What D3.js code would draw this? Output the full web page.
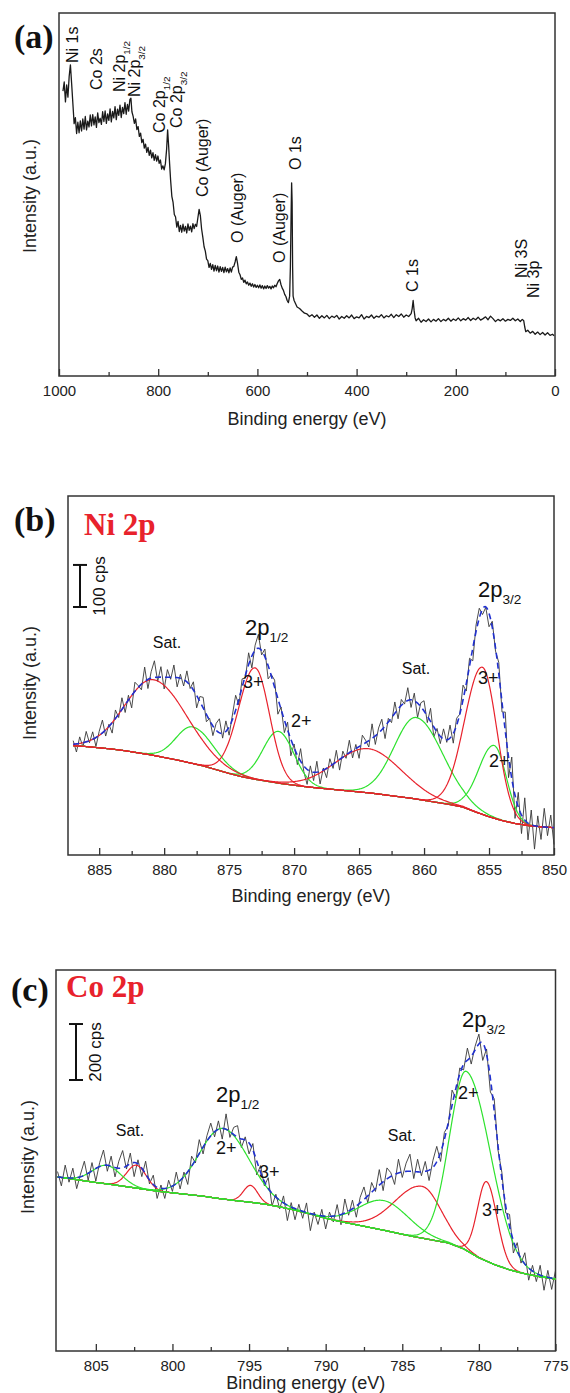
<!DOCTYPE html>
<html><head><meta charset="utf-8">
<script src="https://cdn.jsdelivr.net/npm/d3@7"></script>
<style>body{margin:0;background:#fff}svg{display:block}</style>
</head><body><svg width="570" height="1393"></svg>
<script>
// ---------------- DATA ----------------
// (a) survey spectrum: binding energy (eV) and intensity (% of plot height)
const surveyBE = [992,989.5,987,984.5,982,979.5,977,974.5,972,969.5,967,964.5,962,959.5,957,954.5,952,949.5,947,944.5,942,939.5,937,934.5,932,929.5,927,924.5,922,919.5,917,914.5,912,909.5,907,904.5,902,899.5,897,894.5,892,889.5,887,884.5,882,879.5,877,874.5,872,869.5,867,864.5,862,859.5,857,855,853,850.5,848,845.5,843,840.5,838,835.5,833,830.5,828,825.5,823,820.5,818,815.5,813,810.5,808,805.5,803,800.5,798,795.5,793,790.5,788,785.5,783,781,779,777,775,772.5,770,767.5,765,762.5,760,757.5,755,752.5,750,747.5,745,742.5,740,737.5,735,732.5,730,727.5,725,722.5,720,717.5,715,712.5,710,707.5,705,702.5,700,697.5,695,692.5,690,687.5,685,682.5,680,677.5,675,672.5,670,667.5,665,662.5,660,657.5,655,652.5,650,647.5,645,642.5,640,637.5,635,632.5,630,627.5,625,622.5,620,617.5,615,612.5,610,607.5,605,602.5,600,597.5,595,592.5,590,587.5,585,582.5,580,577.5,575,572.5,570,567.5,565,562.5,560,557.5,555,552.5,550,547.5,545,542.5,540,537.5,535,533.5,532,531,530,529,528,526,523,520,515,510,505,500,495,490,485,480,475,470,465,460,455,450,445,440,435,430,425,420,415,410,405,400,395,390,385,380,375,370,365,360,355,350,345,340,335,330,325,320,315,310,305,300,295,290,288,286,284,282,280,275,270,265,260,255,250,245,240,235,230,225,220,215,210,205,200,195,190,185,180,175,170,165,160,155,150,145,140,135,130,125,120,115,110,105,100,95,90,85,80,75,70,66,63,61,59,55,50,45,40,35,30,25,20,15,10,5,2];
const surveyInt = [78.5,81.0,75.5,80.2,76.8,82.5,85.7,80.5,75.0,69.5,71.2,66.8,69.9,67.0,70.3,67.5,70.8,68.0,71.5,67.8,70.2,68.6,71.9,68.9,72.0,69.2,71.4,68.5,72.5,69.8,71.0,69.3,72.8,70.1,73.0,69.6,72.2,70.4,73.6,70.0,72.9,71.1,74.2,70.6,73.5,71.8,74.6,71.2,74.0,72.3,75.3,72.1,74.8,73.0,76.2,76.5,72.8,71.5,69.6,70.8,67.9,68.7,66.0,66.9,64.3,65.2,62.8,63.9,61.6,63.0,60.8,62.2,60.1,61.5,59.4,61.0,59.2,60.6,58.6,59.5,57.0,57.9,56.8,58.5,62.5,67.8,63.5,58.5,54.0,49.5,47.8,44.5,43.8,41.0,42.6,39.8,41.5,39.6,41.8,39.9,41.2,39.4,41.9,40.1,41.3,39.7,42.0,40.6,41.8,41.2,43.6,45.9,44.2,40.5,38.2,35.6,34.4,32.2,31.8,29.9,31.0,29.4,30.7,28.9,30.5,29.0,30.3,28.6,30.1,28.8,29.9,28.5,30.0,28.7,29.6,28.4,29.8,28.6,30.0,30.2,31.4,32.9,31.0,28.6,27.9,26.6,27.0,25.8,26.4,25.4,25.9,25.0,25.6,24.7,25.4,24.5,25.2,24.4,25.0,24.3,25.1,24.2,24.9,24.0,24.8,24.1,24.9,24.2,24.7,24.0,24.8,24.3,25.0,24.6,25.5,26.2,26.6,25.2,24.2,23.6,22.5,21.9,20.8,20.2,22,30,45,53.2,48,30,22,20.8,19.9,19,18.6,17.9,17.3,17.1,16.4,16.9,16.2,16.8,15.9,16.6,16,16.7,15.8,16.5,16.1,16.7,15.7,16.4,15.9,16.6,16,16.8,15.8,16.3,16,16.9,15.7,16.4,16.1,16.8,15.9,16.5,16.2,16.9,16,16.6,16.3,17,16.1,16.9,16.4,17.1,16.2,16.8,16.4,17.2,18.5,20.8,18,16,15.2,15.9,14.8,15.5,15,15.7,14.9,15.6,15.1,15.8,15,15.6,15.2,15.9,15.1,15.7,15.3,16,15.2,15.8,15.4,16.1,15.3,15.9,15.5,16.2,15.4,15.8,16.3,15.5,16.5,15.8,15,15.6,15.2,15.8,15.1,15.6,15.3,15.9,15.2,15.7,15,15.6,15.2,13.5,12.2,12.6,11.8,12.3,11.5,12.1,11.4,12,11.3,11.9,11.2,11.5,11.1];
const surveyTicks = [1000,800,600,400,200,0];
const surveyMinorTicks = [900,700,500,300,100];
const surveyPeakNames = ["Ni 1s","Co 2s","Ni 2p","Ni 2p","Co 2p","Co 2p","Co (Auger)","O (Auger)","O (Auger)","O 1s","C 1s","Ni 3S","Ni 3p"];
const surveyPeakSubs  = ["","","1/2","3/2","1/2","3/2","","","","","","",""];

// (b) Ni 2p: raw counts sampled from 887 eV downward every 0.25 eV
const niStart = 887, niStep = -0.25;
const niRaw = [282,255,291,267,304,277,303,268,304,331,293,321,300,355,337,384,349,390,360,421,413,403,457,406,446,472,423,458,405,451,428,462,410,440,412,448,406,422,360,387,385,327,335,294,323,334,288,329,295,343,390,367,429,431,491,455,509,535,486,500,429,439,426,345,362,301,326,246,274,225,263,208,178,222,187,233,179,217,194,239,216,259,212,257,240,283,241,273,240,295,283,267,322,273,312,333,287,335,325,374,334,380,369,408,361,395,337,372,377,325,359,291,311,275,310,278,319,276,335,345,414,400,478,472,557,597,582,599,553,566,495,468,350,350,194,243,97,159,61,146,46,117,24,103,47,121,56,105,35];
const niBgBE  = [888,887,886,885,884,883,882,881,880,879,878,877,876,875,874,873,872,871,870,869,868,867,866,865,864,863,862,861,860,859,858,857,856,855,854,853,852,851,850];
const niBgCps = [272,270,268,265,262,258,253,248,242,236,229,222,213,204,196,190,185,180,176,172,169,166,163,160,157,153,149,145,140,135,130,124,112,101,92,85,80,77,75];
const niPeakBE     = [880.8,873.0,864.3,855.5,877.8,871.2,860.6,854.6];
const niPeakCps    = [180,265,105,350,87,123,194,173];
const niPeakHWHigh = [2.6,1.5,3.0,1.6,1.5,1.4,2.0,1.4];
const niPeakHWLow  = [3.0,1.3,3.0,1.3,1.9,1.4,2.4,1.1];
const niPeakState  = ["Ni3+","Ni3+","Ni3+","Ni3+","Ni2+","Ni2+","Ni2+","Ni2+"];
const niTicks = [885,880,875,870,865,860,855,850];
const niMinorTicks = [882.5,877.5,872.5,867.5,862.5,857.5,852.5];

// (c) Co 2p: raw counts sampled from 807.5 eV downward every 0.25 eV
const coStart = 807.5, coStep = -0.25;
const coRaw = [648,597,671,610,660,587,639,685,617,680,614,680,725,649,703,629,685,723,657,714,630,690,630,685,604,635,552,600,552,617,577,646,586,646,602,703,679,762,711,776,821,772,829,764,854,770,806,812,734,772,711,748,636,669,597,626,525,567,515,561,473,537,476,531,481,536,437,503,459,513,443,503,468,530,458,550,492,546,485,556,593,536,609,577,655,580,661,644,602,692,627,678,710,623,692,633,684,616,688,738,684,788,812,939,911,1018,1011,1089,1032,1095,1139,1045,1086,932,908,724,645,500,495,357,394,321,358,260,313,255,313,224,295,227,294];
const coBgBE  = [808,807,806,805,804,803,802,801,800,799,798,797,796,795,794,793,792,791,790,789,788,787,786,785,784,783,782,781,780,779,778,777,776,775];
const coBgCps = [632,625,617,609,602,594,586,578,572,566,560,552,545,539,532,522,510,496,481,469,458,447,436,424,413,403,393,372,340,316,297,283,272,264];
const coPeakBE     = [780.8,779.5,783.7,786.2,796.7,794.9,804.3,802.35];
const coPeakCps    = [640,284,185,106,252,60,66,82];
const coPeakHWHigh = [1.3,0.7,2.1,1.9,1.8,0.55,1.1,0.75];
const coPeakHWLow  = [1.85,0.8,1.45,1.9,2.0,0.55,1.1,0.75];
const coPeakState  = ["Co2+","Co3+","Co3+","Co2+","Co2+","Co3+","Co2+","Co3+"];
const coTicks = [805,800,795,790,785,780,775];
const coMinorTicks = [802.5,797.5,792.5,787.5,782.5,777.5];

// ---------------- STYLE / LAYOUT ----------------
const SANS = "'Liberation Sans', Arial, Helvetica, sans-serif";
const SERIF = "'Liberation Serif', 'Times New Roman', serif";
const RED = "#e8222c", GREEN = "#2ee22e", BLUE = "#2030d0", RAWC = "#383838", BGC = "#a04cc0";
const stateColor = d3.scaleOrdinal().domain(["Ni3+","Ni2+","Co3+","Co2+"]).range([RED,GREEN,RED,GREEN]);

const svg = d3.select("svg").attr("font-family", SANS);

function frame(P){
  svg.append("rect").attr("x",P.l).attr("y",P.t).attr("width",P.r-P.l).attr("height",P.b-P.t)
    .attr("fill","none").attr("stroke","#333").attr("stroke-width",1.5);
}
function bottomAxis(P, x, major, minor){
  const g = svg.append("g").attr("transform",`translate(0,${P.b})`);
  g.call(d3.axisBottom(x).tickValues(major).tickSize(-7).tickPadding(9).tickFormat(d3.format("d")));
  g.append("g").call(d3.axisBottom(x).tickValues(minor).tickSize(-4).tickFormat(""));
  g.selectAll(".domain").remove();
  g.selectAll("line").attr("stroke","#333").attr("stroke-width",1.3);
  g.selectAll("text").attr("font-size",15).attr("font-family",SANS).attr("fill","#222");
}
function axisTitles(P, xTitleY, yTitleX, yTitleY){
  svg.append("text").attr("x",(P.l+P.r)/2).attr("y",xTitleY).attr("text-anchor","middle")
    .attr("font-size",18).attr("fill","#222").text("Binding energy (eV)");
  svg.append("text").attr("transform",`translate(${yTitleX},${yTitleY}) rotate(-90)`).attr("text-anchor","middle")
    .attr("font-size",18).attr("fill","#222").text("Intensity (a.u.)");
}
function panelLetter(x,y,t){
  svg.append("text").attr("x",x).attr("y",y).attr("font-family",SERIF).attr("font-weight","bold")
    .attr("font-size",34).attr("fill","#111").text(t);
}
function subText(x,y,main,sub,size,rot){
  const t = svg.append("text").attr("fill","#111").attr("font-size",size)
    .attr("transform",`translate(${x},${y})${rot?" rotate(-90)":""}`);
  t.append("tspan").text(main);
  if(sub) t.append("tspan").attr("font-size",size*0.62).attr("dy",size*0.3).text(sub);
  return t;
}
function plainText(x,y,s,size,anchor){
  svg.append("text").attr("x",x).attr("y",y).attr("font-size",size).attr("fill","#111")
    .attr("text-anchor",anchor||"start").text(s);
}
function scaleBar(x, y, top, bottom, label){
  const g = svg.append("g").attr("stroke","#111").attr("stroke-width",2);
  g.append("line").attr("x1",x).attr("x2",x).attr("y1",y(top)).attr("y2",y(bottom));
  g.append("line").attr("x1",x-7).attr("x2",x+7).attr("y1",y(top)).attr("y2",y(top));
  g.append("line").attr("x1",x-7).attr("x2",x+7).attr("y1",y(bottom)).attr("y2",y(bottom));
  svg.append("text").attr("transform",`translate(${x+25},${(y(top)+y(bottom))/2}) rotate(-90)`)
    .attr("text-anchor","middle").attr("font-size",17).attr("fill","#111").text(label);
}
function peak(be, c, h, wHigh, wLow){
  const d = be - c, w = d >= 0 ? wHigh : wLow;
  return h * Math.pow(2, -(d/w)*(d/w));
}

// ---------------- PANEL (a) ----------------
const A = {l:59, r:555, t:13, b:376};
const xA = d3.scaleLinear().domain([1000,0]).range([A.l,A.r]);
const yA = d3.scaleLinear().domain([0,100]).range([A.b,A.t]);
frame(A);
bottomAxis(A, xA, surveyTicks, surveyMinorTicks);
axisTitles(A, 425, 36, 196);
panelLetter(14, 48, "(a)");
svg.append("path").datum(surveyBE.map((e,i)=>[e,surveyInt[i]]))
  .attr("fill","none").attr("stroke","#1a1a1a").attr("stroke-width",1.3).attr("stroke-linejoin","round")
  .attr("d", d3.line().x(d=>xA(d[0])).y(d=>yA(d[1])));
// annotation label anchors (pixel positions: baseline x, bottom y)
const surveyLabelPos = [[78,63],[102,90],[125,92],[140,97],[165,133],[182,128],[208,197],[243,243],[285,263],[301,170],[418,292],[527,278],[539,298]];
surveyPeakNames.forEach((n,i)=>subText(surveyLabelPos[i][0], surveyLabelPos[i][1], n, surveyPeakSubs[i], 16, true));

// ---------------- shared fit drawing ----------------
function drawFit(xS, yS, bgBE, bgCps, pBE, pCps, pHi, pLo, pState, raw, start, step, eHi, eLo, redOnTop){
  const bg = d3.scaleLinear().domain(bgBE).range(bgCps);
  const grid = d3.range(eHi, eLo - 1e-9, -0.05);
  const line = d3.line().x(d=>xS(d[0])).y(d=>yS(d[1]));
  const g = svg.append("g").attr("fill","none");
  g.append("path").datum(raw.map((v,i)=>[start+i*step, v]))
    .attr("stroke",RAWC).attr("stroke-width",0.9).attr("stroke-linejoin","round").attr("d",line);
  g.append("path").datum(grid.map(e=>[e,bg(e)])).attr("stroke",BGC).attr("stroke-width",1.3).attr("d",line);
  const order = d3.range(pBE.length).sort((a,b)=>{
    const ra = stateColor(pState[a])===RED ? 1:0, rb = stateColor(pState[b])===RED ? 1:0;
    return redOnTop ? ra-rb : rb-ra;
  });
  order.forEach(k=>{
    g.append("path").datum(grid.map(e=>[e, bg(e)+peak(e,pBE[k],pCps[k],pHi[k],pLo[k])]))
      .attr("stroke",stateColor(pState[k])).attr("stroke-width",1.2).attr("d",line);
  });
  g.append("path").datum(grid.map(e=>[e, bg(e)+d3.sum(pBE,(c,k)=>peak(e,c,pCps[k],pHi[k],pLo[k]))]))
    .attr("stroke",BLUE).attr("stroke-width",1.6).attr("stroke-dasharray","6,4").attr("d",line);
}

// ---------------- PANEL (b) ----------------
const B = {l:68, r:554, t:496, b:855};
const xB = d3.scaleLinear().domain([887.4,850]).range([B.l,B.r]);
const yB = d3.scaleLinear().domain([10,864]).range([B.b,B.t]);
frame(B);
bottomAxis(B, xB, niTicks, niMinorTicks);
axisTitles(B, 902, 36, 683);
panelLetter(14, 531, "(b)");
svg.append("text").attr("x",84).attr("y",535).attr("font-family",SERIF).attr("font-weight","bold")
  .attr("font-size",31).attr("fill",RED).text("Ni 2p");
scaleBar(80, yB, 700, 600, "100 cps");
drawFit(xB, yB, niBgBE, niBgCps, niPeakBE, niPeakCps, niPeakHWHigh, niPeakHWLow, niPeakState, niRaw, niStart, niStep, 887, 850, true);
plainText(167,648,"Sat.",16,"middle");
subText(245,635,"2p","1/2",22,false);
plainText(243,688,"3+",18);
plainText(291,727,"2+",18);
plainText(416,674,"Sat.",16,"middle");
subText(478,597,"2p","3/2",22,false);
plainText(478,684,"3+",18);
plainText(489,767,"2+",18);

// ---------------- PANEL (c) ----------------
const C = {l:56, r:555.5, t:970, b:1351};
const xC = d3.scaleLinear().domain([807.6,775]).range([C.l,C.r]);
const yC = d3.scaleLinear().domain([7,1368]).range([C.b,C.t]);
frame(C);
bottomAxis(C, xC, coTicks, coMinorTicks);
axisTitles(C, 1389, 34, 1157);
panelLetter(11, 1001, "(c)");
svg.append("text").attr("x",66).attr("y",997).attr("font-family",SERIF).attr("font-weight","bold")
  .attr("font-size",31).attr("fill",RED).text("Co 2p");
scaleBar(76, yC, 1175, 975, "200 cps");
drawFit(xC, yC, coBgBE, coBgCps, coPeakBE, coPeakCps, coPeakHWHigh, coPeakHWLow, coPeakState, coRaw, coStart, coStep, 807.5, 775, false);
plainText(130,1136,"Sat.",16,"middle");
subText(216,1102,"2p","1/2",22,false);
plainText(216,1154,"2+",18);
plainText(259,1178,"3+",18);
plainText(402,1141,"Sat.",16,"middle");
subText(462,1027,"2p","3/2",22,false);
plainText(458,1099,"2+",18);
plainText(482,1216,"3+",18);
</script></body></html>
